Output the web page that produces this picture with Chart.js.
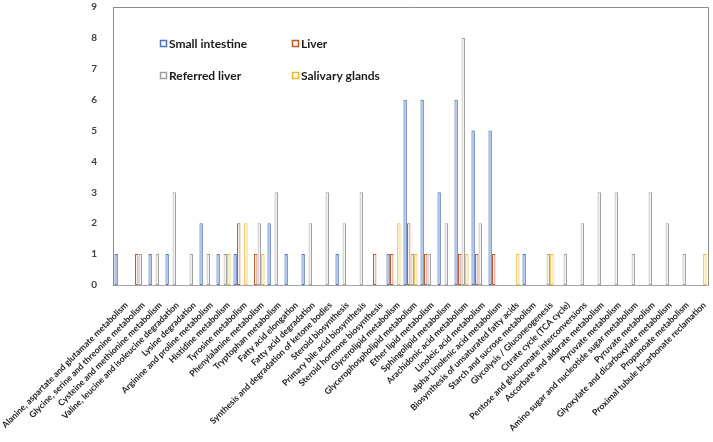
<!DOCTYPE html>
<html>
<head>
<meta charset="utf-8">
<script src="https://cdn.jsdelivr.net/npm/chart.js@4/dist/chart.umd.min.js"></script>
<style>
  html, body { margin: 0; padding: 0; background: #fff; }
  #wrap { width: 713px; height: 442px; position: relative; }
</style>
</head>
<body>
<div id="wrap"><canvas id="chart" width="713" height="442"></canvas></div>
<script>
// pathways (x categories)
var pathways = [
  'Alanine, aspartate and glutamate metabolism',
  'Glycine, serine and threonine metabolism',
  'Cysteine and methionine metabolism',
  'Valine, leucine and isoleucine degradation',
  'Lysine degradation',
  'Arginine and proline metabolism',
  'Histidine metabolism',
  'Tyrosine metabolism',
  'Phenylalanine metabolism',
  'Tryptophan metabolism',
  'Fatty acid elongation',
  'Fatty acid degradation',
  'Synthesis and degradation of ketone bodies',
  'Steroid biosynthesis',
  'Primary bile acid biosynthesis',
  'Steroid hormone biosynthesis',
  'Glycerolipid metabolism',
  'Glycerophospholipid metabolism',
  'Ether lipid metabolism',
  'Sphingolipid metabolism',
  'Arachidonic acid metabolism',
  'Linoleic acid metabolism',
  'alpha-Linolenic acid metabolism',
  'Biosynthesis of unsaturated fatty acids',
  'Starch and sucrose metabolism',
  'Glycolysis / Gluconeogenesis',
  'Citrate cycle (TCA cycle)',
  'Pentose and glucuronate interconversions',
  'Ascorbate and aldarate metabolism',
  'Pyruvate metabolism',
  'Amino sugar and nucleotide sugar metabolism',
  'Pyruvate metabolism',
  'Glyoxylate and dicarboxylate metabolism',
  'Propanoate metabolism',
  'Proximal tubule bicarbonate reclamation'
];

var smallIntestine = [1,0,1,1,0,2,1,1,0,2, 1,1,0,1,0,0,1,6,6,3, 6,5,5,0,1,0,0,0,0,0, 0,0,0,0,0];
var liver          = [0,1,0,0,0,0,0,2,1,0, 0,0,0,0,0,1,1,2,1,0, 1,1,1,0,0,0,0,0,0,0, 0,0,0,0,0];
var referredLiver  = [0,1,1,3,1,1,1,0,2,3, 0,2,3,2,3,0,0,1,1,2, 8,2,0,0,0,1,1,2,3,3, 1,3,2,1,0];
var salivary       = [0,0,0,0,0,0,1,2,1,0, 0,0,0,0,0,0,2,1,0,0, 1,0,0,1,0,1,0,0,0,0, 0,0,0,0,1];

var yTicks = [0,1,2,3,4,5,6,7,8,9];

var seriesNames = ['Small intestine', 'Liver', 'Referred liver', 'Salivary glands'];
var lineCols = ['#4a72c0', '#c0582a', '#a0a0a0', '#f0b828'];
var fillCols = ['#aec4ec', '#fbeee6', '#f2f2f2', '#fff3cf'];

function mk(i, arr) {
  return {
    label: seriesNames[i],
    data: arr.map(function (v) { return v ? v : null; }),
    backgroundColor: fillCols[i],
    borderColor: lineCols[i],
    borderWidth: 1,
    borderSkipped: false,
    categoryPercentage: 0.84,
    barPercentage: 0.95
  };
}

// frame around plot + legend inside plot
var framePlugin = {
  id: 'frame',
  afterDraw: function (chart) {
    var ctx = chart.ctx, a = chart.chartArea;
    ctx.save();
    ctx.strokeStyle = '#8c8c8c';
    ctx.lineWidth = 1;
    ctx.beginPath();
    ctx.moveTo(a.left, a.top + 0.5);
    ctx.lineTo(a.right + 0.5, a.top + 0.5);
    ctx.lineTo(a.right + 0.5, a.bottom);
    ctx.stroke();

    var pos = [[160, 44], [292, 44], [160, 76], [292, 76]];
    ctx.font = 'bold 12px Lato';
    ctx.textBaseline = 'middle';
    for (var i = 0; i < 4; i++) {
      var x = pos[i][0], y = pos[i][1];
      ctx.fillStyle = '#fff';
      ctx.fillRect(x + 0.5, y - 3.5, 6, 6);
      ctx.strokeStyle = lineCols[i];
      ctx.lineWidth = 1.5;
      ctx.strokeRect(x + 0.5, y - 3.5, 6, 6);
      ctx.fillStyle = '#1a1a1a';
      ctx.fillText(seriesNames[i], x + 9, y);
    }
    ctx.restore();
  }
};

var ctx = document.getElementById('chart').getContext('2d');
new Chart(ctx, {
  type: 'bar',
  data: {
    labels: pathways,
    datasets: [mk(0, smallIntestine), mk(1, liver), mk(2, referredLiver), mk(3, salivary)]
  },
  options: {
    responsive: false,
    animation: false,
    layout: { padding: { top: 7, right: 5, left: 0, bottom: 0 } },
    plugins: { legend: { display: false }, tooltip: { enabled: false } },
    scales: {
      x: {
        grid: { display: false },
        border: { display: true, color: '#a6a6a6' },
        ticks: {
          autoSkip: false,
          minRotation: 45,
          maxRotation: 45,
          padding: 7,
          labelOffset: 5,
          color: '#1a1a1a',
          font: { family: 'Lato', size: 8.7, weight: 'bold' }
        },
        afterFit: function (axis) {
          axis.height = 157;
          axis.paddingLeft = 0;
          axis.paddingRight = 0;
        }
      },
      y: {
        min: 0,
        max: 9,
        grid: { display: false },
        border: { display: true, color: '#8c8c8c' },
        afterBuildTicks: function (axis) {
          axis.ticks = yTicks.map(function (v) { return { value: v }; });
        },
        ticks: {
          padding: 8,
          color: '#404040',
          font: { family: 'Lato', size: 10, weight: 'bold' }
        },
        afterFit: function (axis) {
          axis.width = 113;
          axis.paddingTop = 0;
          axis.paddingBottom = 0;
        }
      }
    }
  },
  plugins: [framePlugin]
});
</script>
</body>
</html>
